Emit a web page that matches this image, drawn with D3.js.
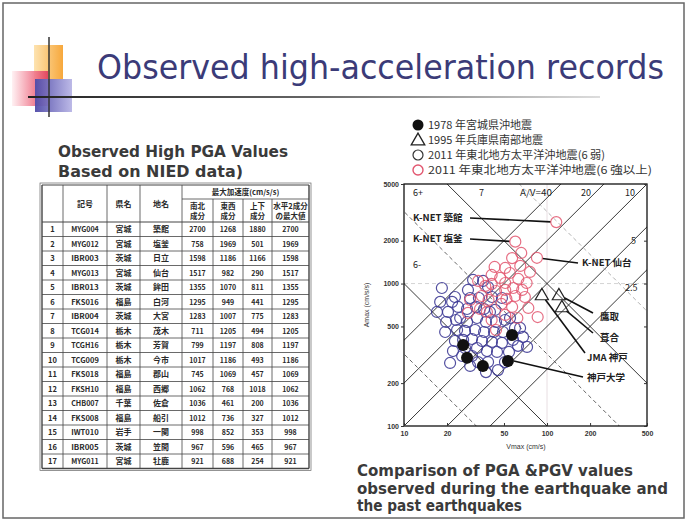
<!DOCTYPE html>
<html><head><meta charset="utf-8">
<script src="https://cdn.jsdelivr.net/npm/d3@7"></script>
<style>body{margin:0;background:#fff}svg{display:block}</style>
</head><body><svg id="c" width="687" height="520"></svg>
<script>
// ---------------- DATA ----------------
const stationNo = [1,2,3,4,5,6,7,8,9,10,11,12,13,14,15,16,17];
const stationCodes = ["MYG004","MYG012","IBR003","MYG013","IBR013","FKS016","IBR004","TCG014","TCGH16","TCG009","FKS018","FKSH10","CHB007","FKS008","IWT010","IBR005","MYG011"];
const prefectures = ["宮城","宮城","茨城","宮城","茨城","福島","茨城","栃木","栃木","栃木","福島","福島","千葉","福島","岩手","茨城","宮城"];
const places = ["築館","塩釜","日立","仙台","鉾田","白河","大宮","茂木","芳賀","今市","郡山","西郷","佐倉","船引","一関","笠間","牡鹿"];
const pgaNS = [2700,758,1598,1517,1355,1295,1283,711,799,1017,745,1062,1036,1012,998,967,921];
const pgaEW = [1268,1969,1186,982,1070,949,1007,1205,1197,1186,1069,768,461,736,852,596,688];
const pgaUD = [1880,501,1166,290,811,441,775,494,808,493,457,1018,200,327,353,465,254];
const pgaHmax = [2700,1969,1598,1517,1355,1295,1283,1205,1197,1186,1069,1062,1036,1012,998,967,921];

const xTicks = [10,20,50,100,200,500];
const yTicks = [100,200,500,1000,2000,5000];

const miyagi1978V = [56.9,25.9,27.6,35.6,53.3];
const miyagi1978A = [435,371,301,264,286];
const kobe1995V = [92,121,127];
const kobe1995A = [832,832,685];

// 2011 Tohoku, JMA intensity 6-lower  [Vmax, Amax]
const tohoku6Lower = [[18.4,931],[30.4,1060],[35.7,1043],[38.7,946],[28,902],[22.7,805],[29,792],[33.4,792],[41.2,805],[48.4,792],
 [17.9,743],[21.7,743],[17,632],[20.3,632],[23.9,685],[27.6,663],[31.9,685],[36.3,663],[43.3,653],[19.7,537],
 [23.1,555],[27.6,537],[32.4,573],[37.4,537],[44,537],[50.8,555],[19.4,457],[23.5,472],[26.7,465],[31.4,472],
 [36.3,457],[42.6,457],[49.2,457],[59.7,488],[22.7,395],[25.9,402],[29.9,408],[35.1,395],[41.2,389],[48.4,383],
 [57.8,402],[67.9,422],[62.7,365],[72.5,359],[26.7,353],[32.4,353],[38,336],[44.7,331],[54.2,331],[22,336],
 [25.5,310],[29.9,310],[21,277],[32.9,281],[38.7,281],[50.8,281],[29,264],[37.4,239],[45.4,247],[55.1,573],
 [64.8,488],[39.9,632],[24.7,573]];
// 2011 Tohoku, JMA intensity 6-upper or more
const tohoku6Upper = [[116,2700],[60,1969],[85,1517],[66,1640],[57,1510],[65,1330],[76,1206],[43,1308],[51,1287],[41,1149],
 [47,1095],[55,1186],[63,1077],[41,994],[51,1009],[58,931],[67,902],[44,887],[37,962],[33,1043],
 [60,818],[70,805],[52,780],[57,685],[48,719],[41,555],[38,632],[86,582],[29,767],[35,818],
 [72,1009],[62,573],[44,472],[51,602],[34,663],[74,674],[39,767],[51,902],[28,622]];

const avRatios = [40,20,10,5,2.5];
const avLabels = ["A/V=40","20","10","5","2.5"];
const avProductSolid = [1e4,1e5];
const avProductDashed = [3200,32000,320000];
const intensityLabels = ["6+","7","6-"];

const knetNames = ["K-NET 築館","K-NET 塩釜","K-NET 仙台"];
const knetV = [116,60,85];
const knetA = [2700,1969,1517];
const kobeNames = ["鷹取","葺合","JMA 神戸","神戸大学"];
const kobeV = [121,127,92,55];
const kobeA = [832,685,832,290];

const legendLabels = ["1978 年宮城県沖地震","1995 年兵庫県南部地震","2011 年東北地方太平洋沖地震(6 弱)","2011 年東北地方太平洋沖地震(6 強以上)"];

// ---------------- DRAW ----------------
const svg = d3.select("#c");
const defs = svg.append("defs");
function grad(id, x1,y1,x2,y2, stops){
  const g = defs.append("linearGradient").attr("id",id).attr("x1",x1).attr("y1",y1).attr("x2",x2).attr("y2",y2);
  stops.forEach(s=>g.append("stop").attr("offset",s[0]).attr("stop-color",s[1]).attr("stop-opacity",s[2]==null?1:s[2]));
}
grad("gOr","0","0","1","0",[[0,"#fde3b0"],[1,"#f7a83c"]]);
grad("gPk","0","0","1","0",[[0,"#fff0f2"],[0.6,"#f07a8e"],[1,"#e23a5c"]]);
grad("gBl","0","0","1","0",[[0,"#4f4aa8"],[1,"#b9b6e6"]]);
defs.append("linearGradient").attr("id","gUl").attr("gradientUnits","userSpaceOnUse")
  .attr("x1",28).attr("x2",600).attr("y1",0).attr("y2",0)
  .call(g=>{g.append("stop").attr("offset",0).attr("stop-color","#222");
            g.append("stop").attr("offset",0.5).attr("stop-color","#666");
            g.append("stop").attr("offset",1).attr("stop-color","#ddd");});

svg.append("rect").attr("x",3).attr("y",3).attr("width",681).attr("height",515)
  .attr("fill","#fff").attr("stroke","#666").attr("stroke-width",1.5);

// decorative squares
svg.append("rect").attr("x",34).attr("y",45).attr("width",29).attr("height",35).attr("fill","url(#gOr)");
svg.append("rect").attr("x",12).attr("y",71).attr("width",36).attr("height",35).attr("fill","url(#gPk)").attr("opacity",0.9);
svg.append("rect").attr("x",35).attr("y",79).attr("width",37).attr("height",33).attr("fill","url(#gBl)").attr("opacity",0.95);
svg.append("line").attr("x1",49).attr("x2",49).attr("y1",37).attr("y2",117).attr("stroke","#333").attr("stroke-width",1.5);
svg.append("line").attr("x1",28).attr("x2",600).attr("y1",97).attr("y2",97).attr("stroke","url(#gUl)").attr("stroke-width",2);

svg.append("text").attr("x",97).attr("y",79).text("Observed high-acceleration records")
  .attr("font-family","DejaVu Sans").attr("font-size",33).attr("fill","#3b3b78")
  .attr("textLength",567).attr("lengthAdjust","spacingAndGlyphs");

// left subtitle
[["Observed High PGA Values",157,230],["Based on NIED data)",177,185]].forEach(([t,yy,w])=>{
  svg.append("text").attr("x",58).attr("y",yy).text(t)
   .attr("font-family","DejaVu Sans").attr("font-weight","bold").attr("font-size",16.5).attr("fill","#3a3a3a")
   .attr("textLength",w).attr("lengthAdjust","spacingAndGlyphs");
});
// bottom-right caption
[["Comparison of PGA &PGV values",476,276],["observed during the earthquake and",494,311],["the past earthquakes",511,165]].forEach(([t,yy,w])=>{
  svg.append("text").attr("x",357).attr("y",yy).text(t)
   .attr("font-family","DejaVu Sans").attr("font-weight","bold").attr("font-size",15).attr("fill","#3a3a3a")
   .attr("textLength",w).attr("lengthAdjust","spacingAndGlyphs");
});

// ---------------- TABLE ----------------
const colX = [42,63,107,140,182,213,243,272,309];
const tTop = 185, tMid = 199, tHead = 222, rowH = 14.5;
const tBot = tHead + rowH*stationNo.length;
const T = svg.append("g").attr("font-family","'Noto Sans CJK JP', 'Liberation Sans', sans-serif").attr("fill","#2a2a2a");
const lineC = "#444";
T.append("line").attr("x1",colX[0]).attr("x2",colX[8]).attr("y1",tTop).attr("y2",tTop).attr("stroke",lineC);
T.append("line").attr("x1",colX[4]).attr("x2",colX[8]).attr("y1",tMid).attr("y2",tMid).attr("stroke",lineC).attr("stroke-width",0.8);
stationNo.forEach((d,i)=>{
  T.append("line").attr("x1",colX[0]).attr("x2",colX[8]).attr("y1",tHead+i*rowH).attr("y2",tHead+i*rowH)
   .attr("stroke",lineC).attr("stroke-width",i===0?1:0.8);
});
T.append("line").attr("x1",colX[0]).attr("x2",colX[8]).attr("y1",tBot).attr("y2",tBot).attr("stroke",lineC).attr("stroke-width",1.4);
colX.forEach((cx,j)=>{
  const y0 = (j>=5 && j<=7) ? tMid : tTop;
  T.append("line").attr("x1",cx).attr("x2",cx).attr("y1",y0).attr("y2",tBot).attr("stroke",lineC)
   .attr("stroke-width",(j===0||j===8)?1.4:0.8);
});
T.append("rect").attr("x",colX[0]-2).attr("y",tTop-2).attr("width",colX[8]-colX[0]+4).attr("height",tBot-tTop+4)
  .attr("fill","none").attr("stroke","#666").attr("stroke-width",0.7);
const mid = j => (colX[j]+colX[j+1])/2;
function tt(x,y,t,size,w){ const e=T.append("text").attr("x",x).attr("y",y).attr("text-anchor","middle")
  .attr("font-size",size).attr("font-weight","bold").text(t); if(w) e.attr("textLength",w).attr("lengthAdjust","spacingAndGlyphs"); return e;}
tt(mid(1),207,"記号",8); tt(mid(2),207,"県名",8); tt(mid(3),207,"地名",8);
tt((colX[4]+colX[8])/2,195,"最大加速度(cm/s/s)",7.5);
[["南北","成分"],["東西","成分"],["上下","成分"],["水平2成分","の最大値"]].forEach((p,k)=>{
  tt(mid(4+k),209,p[0],7.5); tt(mid(4+k),219,p[1],7.5);
});
stationNo.forEach((n,i)=>{
  const yy = tHead + i*rowH + rowH/2 + 3;
  tt(mid(0),yy,String(n),7.5);
  tt(mid(1),yy,stationCodes[i],7,stationCodes[i].length*4.6);
  tt(mid(2),yy,prefectures[i],8);
  tt(mid(3),yy,places[i],8);
  tt(mid(4),yy,String(pgaNS[i]),7);
  tt(mid(5),yy,String(pgaEW[i]),7);
  tt(mid(6),yy,String(pgaUD[i]),7);
  tt(mid(7),yy,String(pgaHmax[i]),7);
});

// ---------------- CHART ----------------
const x = d3.scaleLog().domain([10,500]).range([404,647]);
const y = d3.scaleLog().domain([100,5000]).range([426,184]);
const C = svg.append("g");
defs.append("clipPath").attr("id","plotClip").append("rect")
  .attr("x",404).attr("y",184).attr("width",243).attr("height",242);
const P = C.append("g").attr("clip-path","url(#plotClip)");

P.append("line").attr("x1",x(10)).attr("x2",x(500)).attr("y1",y(1000)).attr("y2",y(1000))
  .attr("stroke","#c9c9c9").attr("stroke-dasharray","4,3").attr("stroke-width",0.8);
P.append("line").attr("x1",x(100)).attr("x2",x(100)).attr("y1",y(100)).attr("y2",y(5000))
  .attr("stroke","#e2d6da").attr("stroke-width",0.8);

const lg = d3.line().x(d=>x(d[0])).y(d=>y(d[1]));
avRatios.forEach(r=>{
  P.append("path").attr("d",lg([[1,r],[1000,1000*r]])).attr("stroke","#222").attr("stroke-width",0.9).attr("fill","none");
});
avProductSolid.forEach(p=>{
  P.append("path").attr("d",lg([[1,p],[1000,p/1000]])).attr("stroke","#222").attr("stroke-width",0.9).attr("fill","none");
});
avProductDashed.forEach((p,i)=>{
  P.append("path").attr("d",lg([[1,p],[1000,p/1000]])).attr("stroke",i===2?"#aaa":"#555")
   .attr("stroke-width",0.9).attr("stroke-dasharray","4,3").attr("fill","none");
});

C.append("rect").attr("x",404).attr("y",184).attr("width",243).attr("height",242)
  .attr("fill","none").attr("stroke","#111").attr("stroke-width",1.3);

const fmt = d3.format("d");
const axB = C.append("g").attr("transform","translate(0,426)")
  .call(d3.axisBottom(x).tickValues(xTicks).tickFormat(fmt).tickSize(-3).tickPadding(5));
const axL = C.append("g").attr("transform","translate(404,0)")
  .call(d3.axisLeft(y).tickValues(yTicks).tickFormat(fmt).tickSize(3).tickPadding(2));
const axR = C.append("g").attr("transform","translate(647,0)")
  .call(d3.axisRight(y).tickValues(yTicks).tickFormat("").tickSize(-3));
[axB,axL,axR].forEach(a=>{
  a.select(".domain").remove();
  a.selectAll("text").attr("font-family","Liberation Sans").attr("font-size",7).attr("fill","#333").attr("font-weight","bold");
  a.selectAll("line").attr("stroke","#333");
});
C.append("text").attr("x",526).attr("y",449).attr("text-anchor","middle").text("Vmax (cm/s)")
  .attr("font-family","Liberation Sans").attr("font-size",7).attr("fill","#333");
C.append("text").attr("transform","translate(369,305) rotate(-90)").attr("text-anchor","middle").text("Amax (cm/s/s)")
  .attr("font-family","Liberation Sans").attr("font-size",7).attr("fill","#333");

const lblF = "'Noto Sans CJK JP', 'Liberation Sans', sans-serif";
function ct(px,py,t,size,anchor,w){ const e=C.append("text").attr("x",px).attr("y",py).text(t)
   .attr("font-family",lblF).attr("font-size",size).attr("fill","#222").attr("font-weight","bold")
   .attr("text-anchor",anchor||"start"); if(w) e.attr("textLength",w).attr("lengthAdjust","spacingAndGlyphs"); return e;}
const avLabelPos = [[520,196],[581,196],[625,196],[631,244],[625,291]];
avLabels.forEach((t,i)=>ct(avLabelPos[i][0],avLabelPos[i][1],t,9,"start", i===0?32:null).attr("font-weight","normal"));
const intPos = [[413,196],[479,196],[413,268]];
intensityLabels.forEach((t,i)=>ct(intPos[i][0],intPos[i][1],t,9).attr("font-weight","normal"));

const knetLbl = [[413,221,"start",470,218],[413,242,"start",470,239],[582,266,"start",578,263]];
const kobeLbl = [[600,320,"start",593,313],[600,341,"start",593,333],[587,361,"start",585,353],[587,381,"start",583,377]];
const R = 5.5;
function leader(v,a,lx,ly,shorten){
  const px=x(v), py=y(a); const dx=lx-px, dy=ly-py, L=Math.hypot(dx,dy);
  C.append("line").attr("x1",px+dx/L*shorten).attr("y1",py+dy/L*shorten).attr("x2",lx).attr("y2",ly)
   .attr("stroke","#111").attr("stroke-width",1.6);
}
knetNames.forEach((n,i)=>{ const L=knetLbl[i]; leader(knetV[i],knetA[i],L[3],L[4],R); ct(L[0],L[1],n,9.5,L[2]); });
kobeNames.forEach((n,i)=>{ const L=kobeLbl[i]; leader(kobeV[i],kobeA[i],L[3],L[4],i===3?4:6); ct(L[0],L[1],n,9.5,L[2]); });

const blue = "#3f3c96", red = "#e2566f";
C.append("g").selectAll("circle").data(tohoku6Lower).join("circle")
  .attr("cx",d=>x(d[0])).attr("cy",d=>y(d[1])).attr("r",R)
  .attr("fill","none").attr("stroke",blue).attr("stroke-width",1.2).attr("stroke-opacity",0.9);
C.append("g").selectAll("circle").data(tohoku6Upper).join("circle")
  .attr("cx",d=>x(d[0])).attr("cy",d=>y(d[1])).attr("r",R)
  .attr("fill","none").attr("stroke",red).attr("stroke-width",1.2).attr("stroke-opacity",0.85);
C.append("g").selectAll("circle").data(miyagi1978V).join("circle")
  .attr("cx",(d,i)=>x(d)).attr("cy",(d,i)=>y(miyagi1978A[i])).attr("r",6).attr("fill","#111");
const tri = d3.symbol().type(d3.symbolTriangle).size(75);
C.append("g").selectAll("path").data(kobe1995V).join("path")
  .attr("d",tri).attr("transform",(d,i)=>`translate(${x(d)},${y(kobe1995A[i])+1})`)
  .attr("fill","none").attr("stroke","#222").attr("stroke-width",1.2);

const Lg = svg.append("g");
const legY = [125,140,155,170], legW = [104,115,177,224];
Lg.append("circle").attr("cx",418).attr("cy",legY[0]).attr("r",5.5).attr("fill","#111");
Lg.append("path").attr("d",d3.symbol().type(d3.symbolTriangle).size(80)()).attr("transform",`translate(418,${legY[1]+1})`)
  .attr("fill","none").attr("stroke","#222").attr("stroke-width",1.3);
Lg.append("circle").attr("cx",418).attr("cy",legY[2]).attr("r",5).attr("fill","none").attr("stroke","#333").attr("stroke-width",1.2);
Lg.append("circle").attr("cx",418).attr("cy",legY[3]).attr("r",5).attr("fill","none").attr("stroke",red).attr("stroke-width",1.4);
legendLabels.forEach((t,i)=>{
  Lg.append("text").attr("x",428).attr("y",legY[i]+4).text(t)
   .attr("font-family","'Noto Sans CJK JP', sans-serif").attr("font-size",11).attr("fill","#333")
   .attr("textLength",legW[i]).attr("lengthAdjust","spacingAndGlyphs");
});
</script></body></html>
